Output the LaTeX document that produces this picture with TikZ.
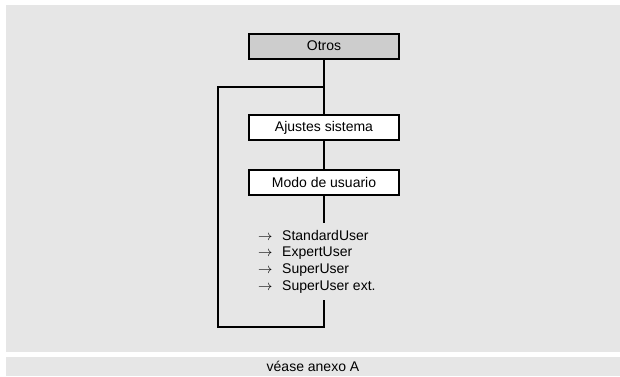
\documentclass[tikz,border=0pt]{standalone}
\usepackage{fontspec}
\setmainfont{Liberation Sans}
\definecolor{panelgray}{RGB}{230,230,230}
\definecolor{headgray}{RGB}{205,205,205}
\begin{document}
\begin{tikzpicture}[x=1pt,y=-1pt,
  menubox/.style={draw=black, line width=2pt, fill=white, minimum width=150pt, minimum height=25pt, inner sep=0pt, font=\fontsize{14}{16}\selectfont},
  wire/.style={line width=2pt},
  itemtxt/.style={anchor=base west, inner sep=0pt, font=\fontsize{14}{16}\selectfont}]
\useasboundingbox (0,0) rectangle (620,376);
\fill[white] (0,0) rectangle (620,376);
\fill[panelgray] (6,5) rectangle (620,352);
\fill[panelgray] (6,357) rectangle (620,376);
\node[menubox, fill=headgray] (otros) at (324,46) {Otros};
\node[menubox] (ajustes) at (324,127.5) {Ajustes sistema};
\node[menubox] (modo) at (324,182.5) {Modo de usuario};
\coordinate (branch) at (324,86.7);
\coordinate (lefttop) at (217.7,86.7);
\coordinate (leftbot) at (217.7,326.7);
\coordinate (midbot) at (324,326.7);
\coordinate (listtop) at (324,222.7);
\coordinate (listbot) at (324,300);
\draw[wire] (otros.south) -- (ajustes.north);
\draw[wire] (ajustes.south) -- (modo.north);
\draw[wire] (modo.south) -- (listtop);
\draw[wire] (listbot) -- (midbot) -- (leftbot) -- (lefttop) -- (branch);
\foreach \t [count=\i] in {StandardUser,ExpertUser,SuperUser,SuperUser ext.}{
  \node[itemtxt] (arr\i) at (258,{240+16.67*(\i-1)}) {$\rightarrow$};
  \node[itemtxt] (item\i) at (282,{240+16.67*(\i-1)}) {\t};
}
\node[anchor=base, inner sep=0pt, font=\fontsize{14}{16}\selectfont] (foot) at (313,371) {véase anexo A};
\end{tikzpicture}
\end{document}
